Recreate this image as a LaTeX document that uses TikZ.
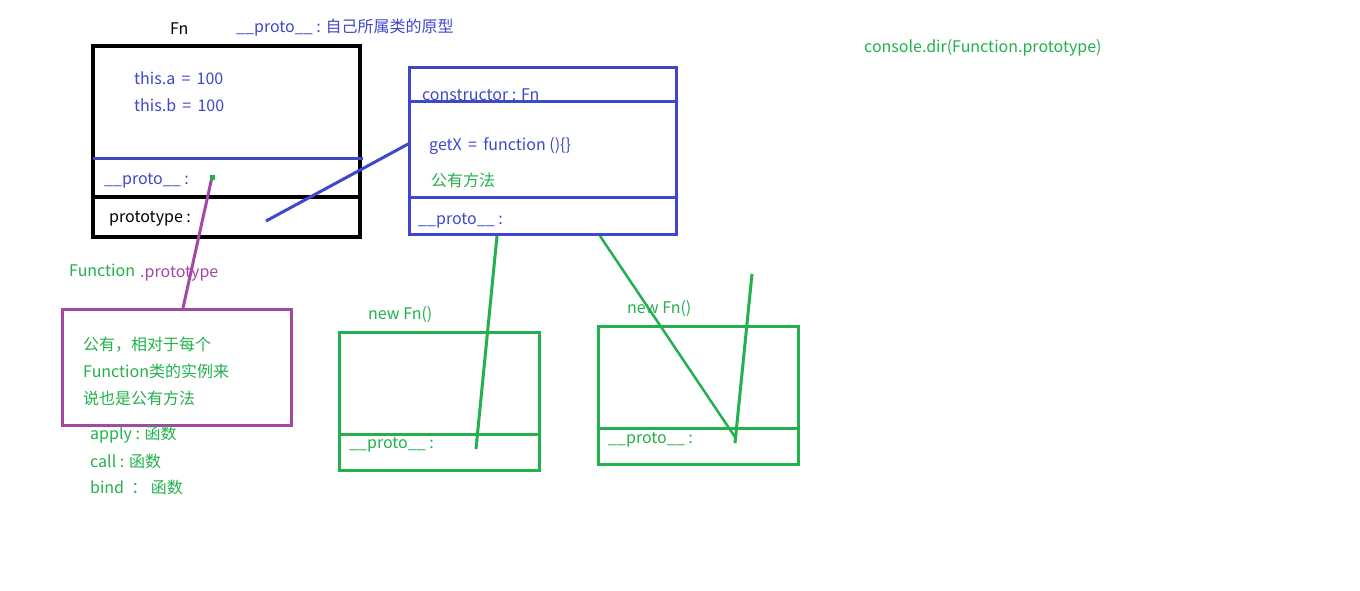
\documentclass[tikz,border=0pt]{standalone}
\usepackage{fontspec}
\setmainfont{Noto Sans CJK SC}
\definecolor{pblue}{HTML}{3F48CC}
\definecolor{pgreen}{HTML}{22B14C}
\definecolor{ppurple}{HTML}{A349A4}
\tikzset{
  lbl/.style={inner sep=0pt, anchor=west, yshift=-1.5pt, font=\fontsize{16}{18}\selectfont},
  boxnode/.style={draw, inner sep=0pt, outer sep=0pt, anchor=north west},
}
\begin{document}
\begin{tikzpicture}[x=1pt,y=-1pt]
\useasboundingbox[fill=white] (0,0) rectangle (1360,591);

% Fn box
\node[boxnode, line width=4pt, minimum width=267pt, minimum height=191pt] (fn) at (93,46) {};
\coordinate (fnb1l) at (93,159); \coordinate (fnb1r) at (363,159);
\coordinate (fnb2l) at (93,197); \coordinate (fnb2r) at (360,197);
\draw[pblue, line width=3pt] (fnb1l) -- (fnb1r);
\draw[line width=3.5pt] (fnb2l) -- (fnb2r);
\node[lbl] (fnt) at (170,27) {Fn};
\node[lbl, pblue] (protonote) at (236,26) {\_\_proto\_\_ : 自己所属类的原型};
\node[lbl, pblue] (ta) at (134,77) {this.a \,=\, 100};
\node[lbl, pblue] (tb) at (134,104) {this.b \,=\, 100};
\node[lbl, pblue] (fnproto) at (104,179) {\_\_proto\_\_ :};
\node[lbl] (fnprot) at (109,217) {prototype :};
\node[fill=pgreen, inner sep=0pt, minimum size=5pt] (dot) at (212,177) {};

% prototype box
\node[boxnode, pblue, line width=3pt, minimum width=267pt, minimum height=166pt] (pr) at (409,68) {};
\coordinate (prb1l) at (409,102); \coordinate (prb1r) at (676,102);
\coordinate (prb2l) at (409,197); \coordinate (prb2r) at (676,197);
\draw[pblue, line width=3pt] (prb1l) -- (prb1r);
\draw[pblue, line width=3pt] (prb2l) -- (prb2r);
\node[lbl, pblue] (ctor) at (422,93) {constructor : Fn};
\node[lbl, pblue] (getx) at (429,144) {getX \,=\, function ()\{\}};
\node[lbl, pgreen] (pub) at (431,179) {公有方法};
\node[lbl, pblue] (prproto) at (418,219) {\_\_proto\_\_ :};

\node[lbl, pgreen] (cdir) at (864,46) {console.dir(Function.prototype)};

% Function.prototype box
\node[lbl, pgreen] (fun) at (69,269) {Function};
\node[lbl, ppurple] (dotproto) at (140,272) {.prototype};
\node[boxnode, ppurple, line width=3pt, minimum width=229pt, minimum height=116pt] (fp) at (62,309) {};
\node[lbl, pgreen] (fp1) at (83,343) {公有，相对于每个};
\node[lbl, pgreen] (fp2) at (83,370) {Function类的实例来};
\node[lbl, pgreen] (fp3) at (83,397) {说也是公有方法};
\node[lbl, pgreen] (ap) at (90,433) {apply : 函数};
\node[lbl, pgreen] (ca) at (90,460) {call : 函数};
\node[lbl, pgreen] (bi) at (90,486) {bind \ ： 函数};

% instance boxes
\node[lbl, pgreen] (new1) at (368,313) {new Fn()};
\node[boxnode, pgreen, line width=3pt, minimum width=200pt, minimum height=138pt] (i1) at (339,332) {};
\coordinate (i1l) at (338,434); \coordinate (i1r) at (541,434);
\draw[pgreen, line width=3pt] (i1l) -- (i1r);
\node[lbl, pgreen] (i1p) at (349,443) {\_\_proto\_\_ :};

\node[lbl, pgreen] (new2) at (627,307) {new Fn()};
\node[boxnode, pgreen, line width=3pt, minimum width=200pt, minimum height=138pt] (i2) at (598,326) {};
\coordinate (i2l) at (597,428); \coordinate (i2r) at (800,428);
\draw[pgreen, line width=3pt] (i2l) -- (i2r);
\node[lbl, pgreen] (i2p) at (608,438) {\_\_proto\_\_ :};

% connectors
\coordinate (c1a) at (266,221); \coordinate (c1b) at (410,143);
\draw[pblue, line width=3pt] (c1a) -- (c1b);
\coordinate (c2b) at (183,308);
\draw[ppurple, line width=3pt] (dot) -- (c2b);
\coordinate (c3a) at (497,236); \coordinate (c3b) at (476,449);
\draw[pgreen, line width=3pt] (c3a) -- (c3b);
\coordinate (c4a) at (600,236); \coordinate (c4b) at (735,437);
\coordinate (c5a) at (735,443); \coordinate (c5b) at (752,274);
\draw[pgreen, line width=2.5pt] (c4a) -- (c4b);
\draw[pgreen, line width=3pt] (c5a) -- (c5b);
\end{tikzpicture}
\end{document}
